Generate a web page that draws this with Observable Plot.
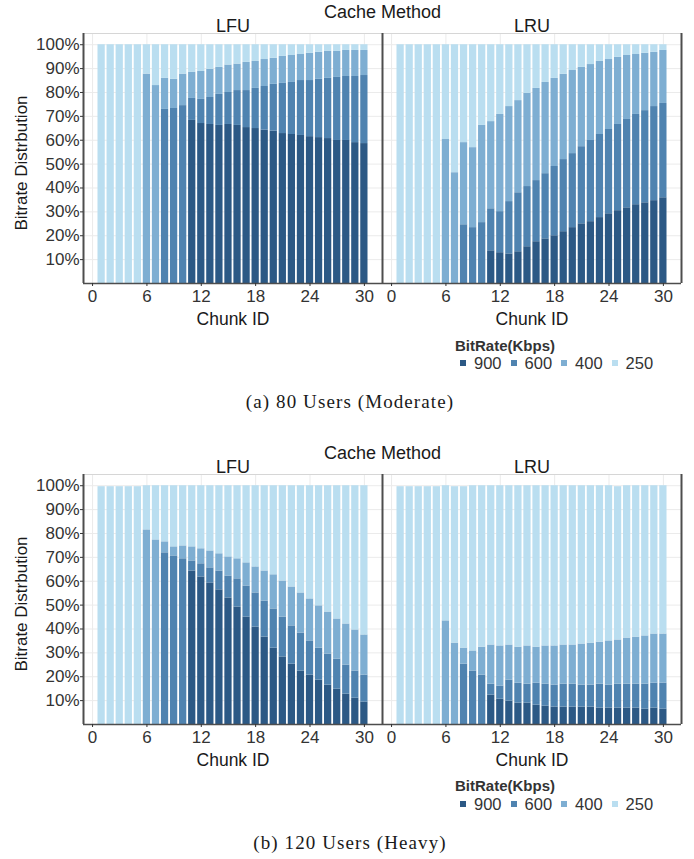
<!DOCTYPE html>
<html>
<head>
<meta charset="utf-8">
<script src="https://cdn.jsdelivr.net/npm/d3@7"></script>
<script src="https://cdn.jsdelivr.net/npm/@observablehq/plot@0.6"></script>
<style>
  html, body { margin: 0; padding: 0; background: white; }
  #page { position: relative; width: 694px; height: 859px; overflow: hidden; font-family: 'Liberation Sans', Arial, sans-serif; }
  .fig { position: absolute; left: 0; }
  .legend-title { position: absolute; font-weight: bold; font-size: 15px; line-height: 15px; color: #333; white-space: nowrap; }
  .legend-items { position: absolute; display: flex; align-items: center; font-size: 16.5px; line-height: 16.5px; color: #333; white-space: nowrap; }
  .legend-items .sw { width: 6px; height: 6px; margin-right: 8px; }
  .legend-items .lb { margin-right: 9px; }
  .caption { position: absolute; left: 3px; width: 694px; text-align: center; font-family: 'Liberation Serif', 'Times New Roman', serif; font-size: 19px; line-height: 19px; letter-spacing: 1.1px; color: #1a1a1a; white-space: nowrap; }
</style>
</head>
<body>
<div id="page"></div>
<script>
// ---------- data ----------
const chunks = [1,2,3,4,5,6,7,8,9,10,11,12,13,14,15,16,17,18,19,20,21,22,23,24,25,26,27,28,29,30];
const methods = ["LFU", "LRU"];
const rates = ["900", "600", "400", "250"];
const rateColors = ["#2c5985", "#4f83b0", "#7eaed2", "#badef0"];
const xTicks = [0, 6, 12, 18, 24, 30];
const yTicks = [10, 20, 30, 40, 50, 60, 70, 80, 90, 100];
const xDomain = [-1, 32];
const yDomain = [0, 104.7];
const figureCaptions = ["(a) 80 Users (Moderate)", "(b) 120 Users (Heavy)"];

// (a) 80 users, share (%) of each bitrate per chunk
const modLFU900 = [0,0,0,0,0,0,0,0,0,0,68.3,67.0,66.6,66.2,66.6,66.2,65.3,64.9,64.2,63.8,62.8,62.4,62.0,61.5,61.1,60.7,59.9,59.9,59.0,58.6];
const modLFU600 = [0,0,0,0,0,0,0,72.9,73.3,74.5,9.2,10.1,11.3,13.0,13.4,14.6,15.5,16.8,18.3,19.6,21.0,21.8,23.0,23.5,24.4,25.2,26.4,26.8,27.7,28.5];
const modLFU400 = [0,0,0,0,0,87.7,82.9,13.0,12.2,13.2,10.9,11.7,11.8,11.3,11.5,11.1,11.8,11.3,11.3,10.9,11.3,11.3,10.9,11.4,11.3,11.3,10.9,10.9,10.9,10.5];
const modLFU250 = [100,100,100,100,100,12.3,17.1,14.1,14.5,12.3,11.6,11.2,10.3,9.5,8.5,8.1,7.4,7.0,6.2,5.7,4.9,4.5,4.1,3.6,3.2,2.8,2.8,2.4,2.4,2.4];

const modLRU900 = [0,0,0,0,0,0,0,0,0,0,13.7,12.9,12.4,13.3,15.4,17.5,18.7,20.0,21.7,23.4,25.0,25.9,27.6,29.2,30.5,31.7,33.0,33.8,34.7,35.9];
const modLRU600 = [0,0,0,0,0,0,0,24.6,23.4,25.5,17.6,17.2,21.9,24.7,25.2,25.6,27.3,29.0,30.2,31.0,32.3,34.0,34.8,35.3,36.1,37.0,37.8,38.6,39.4,39.5];
const modLRU400 = [0,0,0,0,0,60.3,46.4,34.4,33.5,40.7,36.5,40.7,39.8,38.6,39.0,38.6,38.2,36.9,35.7,34.8,33.2,31.8,30.6,29.3,28.1,26.8,25.1,24.0,22.7,22.2];
const modLRU250 = [100,100,100,100,100,39.7,53.6,41.0,43.1,33.8,32.2,29.2,25.9,23.4,20.4,18.3,15.8,14.1,12.4,10.8,9.5,8.3,7.0,6.2,5.3,4.5,4.1,3.6,3.2,2.4];

// (b) 120 users
const heavyLFU900 = [0,0,0,0,0,0,0,0,0,0,64.3,61.8,59.3,56.4,53.0,49.2,45.0,40.8,36.6,32.0,28.3,25.3,22.4,20.7,18.6,16.5,14.8,12.7,11.0,9.4];
const heavyLFU600 = [0,0,0,0,0,0,0,71.9,70.6,69.4,4.2,5.5,6.3,7.9,9.2,11.8,13.0,14.3,15.1,16.4,16.7,16.0,15.9,14.3,13.4,13.0,12.6,12.2,11.4,11.3];
const heavyLFU400 = [0,0,0,0,0,81.5,77.3,4.6,3.8,5.4,5.9,6.3,7.1,7.2,8.0,8.4,9.7,10.9,12.6,14.3,15.1,16.3,16.8,17.6,17.7,17.6,16.8,17.2,17.2,16.8];
const heavyLFU250 = [99.6,99.6,99.6,99.6,99.6,18.5,22.7,23.5,25.6,25.2,25.6,26.4,27.3,28.5,29.8,30.6,32.3,34.0,35.7,37.3,39.9,42.4,44.9,47.4,50.3,52.9,55.8,57.9,60.4,62.5];

const heavyLRU900 = [0,0,0,0,0,0,0,0,0,0,12.3,10.6,9.8,9.0,9.0,8.1,7.7,7.3,7.3,7.3,7.3,7.3,6.9,6.9,6.9,6.9,6.9,6.4,6.9,6.4];
const heavyLRU600 = [0,0,0,0,0,0,0,25.3,22.4,20.7,4.6,5.5,8.8,8.3,7.9,9.2,9.2,9.2,9.6,9.6,9.2,9.2,10.0,9.6,10.0,10.0,10.0,10.5,10.4,10.9];
const heavyLRU400 = [0,0,0,0,0,43.4,34.1,6.7,8.4,11.7,16.4,16.8,14.7,15.1,16.0,15.1,16.0,16.4,16.4,16.4,17.2,17.6,17.6,18.5,18.5,19.3,19.7,20.2,20.6,20.6];
const heavyLRU250 = [99.6,99.6,99.6,99.6,99.6,56.6,65.5,67.6,69.2,67.6,66.7,67.1,66.7,67.6,67.1,67.6,67.1,67.1,66.7,66.7,66.3,65.9,65.5,65.0,64.2,63.8,63.4,62.9,62.1,62.1];

const figures = [
  {LFU: [modLFU900, modLFU600, modLFU400, modLFU250], LRU: [modLRU900, modLRU600, modLRU400, modLRU250]},
  {LFU: [heavyLFU900, heavyLFU600, heavyLFU400, heavyLFU250], LRU: [heavyLRU900, heavyLRU600, heavyLRU400, heavyLRU250]}
];

// ---------- drawing ----------
const barHalf = 0.4;
const dark = "#4d4d4d";
const titleColor = "#1a1a1a";

function makeChart(series) {
  const rows = [];
  methods.forEach(m => rates.forEach((r, k) => series[m][k].forEach((v, i) => {
    rows.push({method: m, chunk: chunks[i], rate: r, share: v});
  })));
  return Plot.plot({
    width: 694,
    height: 330,
    marginTop: 33,
    marginBottom: 47,
    marginLeft: 83,
    marginRight: 13,
    style: {fontFamily: "'Liberation Sans', Arial, sans-serif", fontSize: "17px", color: "#333", background: "white", overflow: "visible"},
    fx: {domain: methods, padding: 0, axis: null},
    x: {type: "linear", domain: xDomain},
    y: {type: "linear", domain: yDomain},
    color: {domain: rates, range: rateColors},
    marks: [
      Plot.ruleY(yTicks, {stroke: "#ebebeb", strokeWidth: 1}),
      Plot.ruleX(xTicks, {stroke: "#ebebeb", strokeWidth: 1}),
      Plot.rectY(rows, Plot.stackY({
        x1: d => d.chunk - barHalf,
        x2: d => d.chunk + barHalf,
        y: "share",
        fill: "rate",
        fx: "method",
        order: rates
      })),
      Plot.ruleY([yDomain[1]], {stroke: "#d6d6d6", strokeWidth: 1.2}),
      Plot.ruleY([yDomain[0]], {stroke: dark, strokeWidth: 1.5}),
      Plot.ruleX([xDomain[0]], {stroke: dark, strokeWidth: 2}),
      Plot.ruleX([{method: "LRU", x: xDomain[1]}], {x: "x", fx: "method", stroke: dark, strokeWidth: 2}),
      Plot.axisY({anchor: "left", ticks: yTicks, tickFormat: d => d + "%", tickSize: 3, tickPadding: 1, label: null, fontSize: 17}),
      Plot.axisX({anchor: "bottom", ticks: xTicks, tickSize: 3, tickPadding: 3, label: null, fontSize: 17}),
      Plot.text(methods, {fx: d => d, text: d => d, frameAnchor: "top", lineAnchor: "middle", textAnchor: "middle", dy: -7, fontSize: 18, fill: titleColor}),
      Plot.text([{method: "LFU", t: "Cache Method"}], {fx: "method", text: "t", frameAnchor: "top-right", lineAnchor: "middle", textAnchor: "middle", dy: -21, fontSize: 18, fill: titleColor}),
      Plot.text(["Chunk ID"], {text: d => d, frameAnchor: "bottom", lineAnchor: "middle", textAnchor: "middle", dy: 36, fontSize: 17.5, fill: titleColor}),
      Plot.text([{method: "LFU", t: "Bitrate Distrbution"}], {fx: "method", text: "t", frameAnchor: "left", lineAnchor: "middle", textAnchor: "middle", rotate: -90, dx: -61.5, dy: 4.5, fontSize: 17, fill: titleColor})
    ]
  });
}

const page = document.getElementById("page");
const offsets = [0, 440.5];
figures.forEach((series, f) => {
  const top = offsets[f];
  const holder = document.createElement("div");
  holder.className = "fig";
  holder.style.top = top + "px";
  holder.appendChild(makeChart(series));
  page.appendChild(holder);

  const lt = document.createElement("div");
  lt.className = "legend-title";
  lt.style.left = "455px";
  lt.style.top = (top + 337.5) + "px";
  lt.textContent = "BitRate(Kbps)";
  page.appendChild(lt);

  const li = document.createElement("div");
  li.className = "legend-items";
  li.style.left = "460px";
  li.style.top = (top + 355) + "px";
  rates.forEach((r, k) => {
    const sw = document.createElement("span");
    sw.className = "sw";
    sw.style.background = rateColors[k];
    const lb = document.createElement("span");
    lb.className = "lb";
    lb.textContent = r;
    li.appendChild(sw);
    li.appendChild(lb);
  });
  page.appendChild(li);

  const cap = document.createElement("div");
  cap.className = "caption";
  cap.style.top = (top + 392) + "px";
  cap.textContent = figureCaptions[f];
  page.appendChild(cap);
});
</script>
</body>
</html>
